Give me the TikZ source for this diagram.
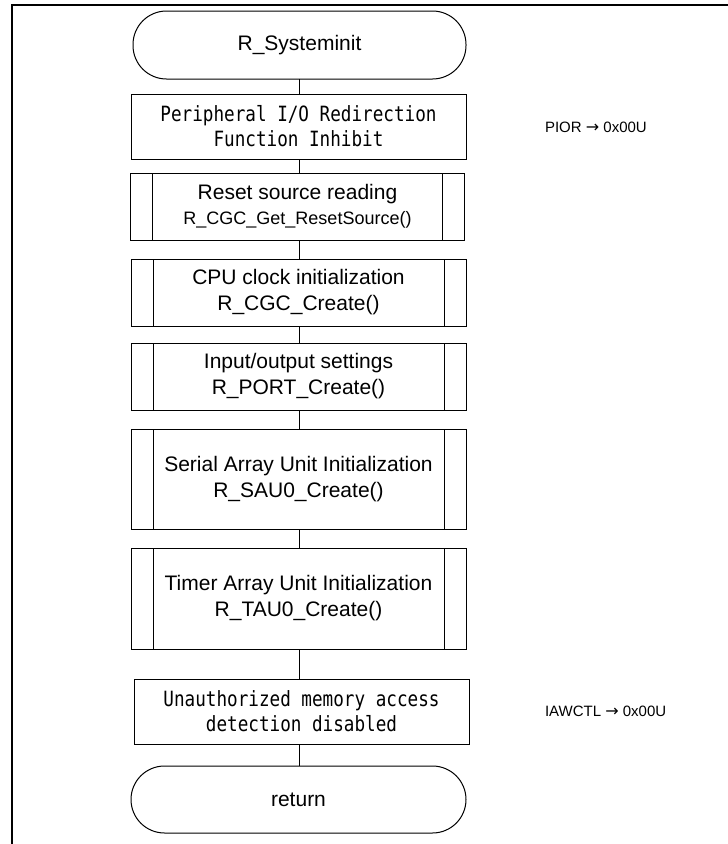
\documentclass[tikz,border=0pt]{standalone}
\usepackage{fontspec}
\setmainfont{Liberation Sans}
\newfontfamily\gothic[FakeStretch=0.84]{DejaVu Sans Mono}
\newfontfamily\dejavu{DejaVu Sans}
\begin{document}
\begin{tikzpicture}[x=1pt,y=-1pt,
  every node/.style={inner sep=0pt, outer sep=0pt},
  box/.style={draw, line width=1pt, rectangle, minimum width=335pt, align=center,
    font=\fontsize{21}{26}\selectfont},
  gbox/.style={box, font=\gothic\fontsize{21}{25}\selectfont},
  term/.style={box, rounded corners=33.5pt},
  note/.style={anchor=base west, font=\fontsize{15}{18}\selectfont},
  conn/.style={line width=1pt},
  frame/.style={line width=1.5pt}
]
\useasboundingbox (0,0) rectangle (728,844);
\draw[frame] (12,844) -- (12,5) -- (728,5);

\node[term, minimum width=333pt, minimum height=68pt] (start) at (299.5,45) {R\_Systeminit};
\node[gbox, minimum height=65pt] (periph) at (298.5,126.5) {Peripheral I/O Redirection\\Function Inhibit};
\node[box, minimum width=334pt, minimum height=67pt] (reset) at (297.5,206.5)
  {Reset source reading\\[-1pt]{\fontsize{18}{20}\selectfont R\_CGC\_Get\_ResetSource()}};
\node[box, minimum height=67pt] (cpu) at (298.5,292.5) {CPU clock initialization\\R\_CGC\_Create()};
\node[box, minimum height=67pt] (port) at (298.5,376.5) {Input/output settings\\R\_PORT\_Create()};
\node[box, minimum height=100pt] (sau) at (298.5,479) {Serial Array Unit Initialization\\R\_SAU0\_Create()};
\node[box, minimum height=101pt] (tau) at (298.5,598.5) {Timer Array Unit Initialization\\R\_TAU0\_Create()};
\node[gbox, minimum height=65pt] (unauth) at (301.5,711.5) {Unauthorized memory access\\detection disabled};
\node[term, minimum height=67pt] (ret) at (298.5,799.5) {return};

\foreach \n in {reset,cpu,port,sau,tau}{
  \draw[conn] ([xshift=22pt]\n.north west) -- ([xshift=22pt]\n.south west);
  \draw[conn] ([xshift=-22pt]\n.north east) -- ([xshift=-22pt]\n.south east);
}

\coordinate (cx) at (299,0);
\foreach \a/\b in {start/periph,periph/reset,reset/cpu,cpu/port,port/sau,sau/tau,tau/unauth,unauth/ret}{
  \draw[conn] (cx |- \a.south) -- (cx |- \b.north);
}

\node[note] (pior) at (545,132.5) {PIOR {\dejavu\fontsize{16}{18}\selectfont →} 0x00U};
\node[note] (iawctl) at (545,716.5) {IAWCTL {\dejavu\fontsize{16}{18}\selectfont →} 0x00U};
\end{tikzpicture}
\end{document}
